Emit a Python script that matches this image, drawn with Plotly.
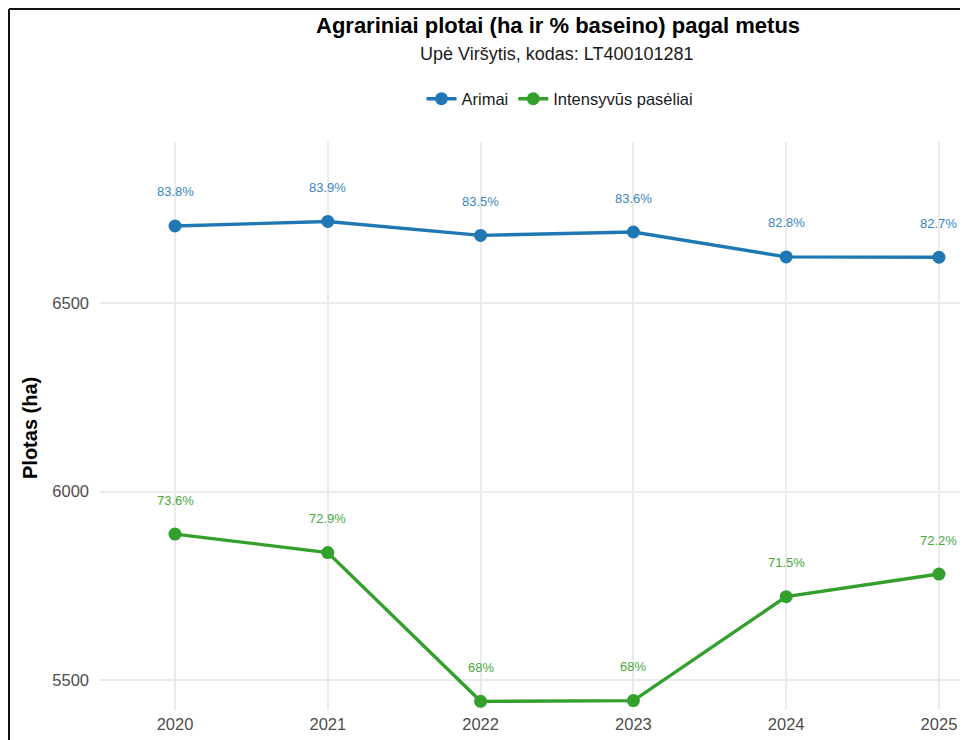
import plotly.graph_objects as go

years = [2020, 2021, 2022, 2023, 2024, 2025]
arimai_ha = [6705, 6717, 6680, 6689, 6623, 6622]
arimai_pct = [83.8, 83.9, 83.5, 83.6, 82.8, 82.7]
intens_ha = [5887, 5838, 5443, 5445, 5721, 5781]
intens_pct = [73.6, 72.9, 68.0, 68.0, 71.5, 72.2]
y_ticks = [5500, 6000, 6500]

BLUE = "#1f78b4"
GREEN = "#33a02c"
FONT = "Liberation Sans, Arial, sans-serif"

# page body has an 8px margin; positions below are screen pixels
OFF = 8
W, H = 968, 740
L, R, T, B = 92, 8, 134, 38
PW = W - L - R
PH = H - T - B


def sx(px):
    return (px - OFF - L) / PW


def sy(py):
    return (H - B - (py - OFF)) / PH


fig = go.Figure()
fig.add_trace(go.Scatter(
    x=years, y=arimai_ha, mode="lines+markers", name="Arimai",
    line=dict(color=BLUE, width=3.4), marker=dict(color=BLUE, size=13),
))
fig.add_trace(go.Scatter(
    x=years, y=intens_ha, mode="lines+markers", name="Intensyvūs pasėliai",
    line=dict(color=GREEN, width=3.4), marker=dict(color=GREEN, size=13),
))

annotations = []
for xs, ys, ps, col in [(years, arimai_ha, arimai_pct, "#3a86c0"),
                        (years, intens_ha, intens_pct, "#4aa83e")]:
    for x, y, p in zip(xs, ys, ps):
        annotations.append(dict(
            x=x, y=y, xref="x", yref="y", text=f"{p:g}%", showarrow=False,
            yshift=34, font=dict(family=FONT, size=13, color=col),
        ))

annotations.append(dict(
    xref="paper", yref="paper", x=sx(558), y=sy(25),
    text="<b>Agrariniai plotai (ha ir % baseino) pagal metus</b>", showarrow=False,
    xanchor="center", yanchor="middle", font=dict(family=FONT, size=22, color="#000000"),
))
annotations.append(dict(
    xref="paper", yref="paper", x=sx(557), y=sy(54),
    text="Upė Viršytis, kodas: LT400101281", showarrow=False,
    xanchor="center", yanchor="middle", font=dict(family=FONT, size=18, color="#1a1a1a"),
))
annotations.append(dict(
    xref="paper", yref="paper", x=sx(30), y=sy(428),
    text="<b>Plotas (ha)</b>", showarrow=False, textangle=-90,
    xanchor="center", yanchor="middle", font=dict(family=FONT, size=20, color="#000000"),
))

shapes = [
    dict(type="line", xref="paper", yref="paper",
         x0=sx(9), x1=sx(9), y0=sy(9), y1=sy(760),
         line=dict(color="#111111", width=2)),
    dict(type="line", xref="paper", yref="paper",
         x0=sx(9), x1=sx(990), y0=sy(9), y1=sy(9),
         line=dict(color="#111111", width=2)),
]

fig.update_layout(
    width=W, height=H,
    margin=dict(l=L, r=R, t=T, b=B),
    paper_bgcolor="white", plot_bgcolor="white",
    font=dict(family=FONT, size=16, color="#4d4d4d"),
    showlegend=True,
    legend=dict(
        orientation="h", xref="paper", yref="paper",
        x=sx(560), y=sy(99), xanchor="center", yanchor="middle",
        font=dict(family=FONT, size=16.5, color="#1a1a1a"),
        itemwidth=30, bgcolor="rgba(0,0,0,0)",
    ),
    annotations=annotations,
    shapes=shapes,
)
fig.update_xaxes(
    range=[2019.509, 2025.19], tickmode="array", tickvals=years,
    ticktext=[str(y) for y in years],
    showgrid=True, gridcolor="#ebebeb", gridwidth=1.5, zeroline=False,
    showline=False, ticks="", ticklabelstandoff=2,
    tickfont=dict(family=FONT, size=16.5, color="#4d4d4d"),
)
fig.update_yaxes(
    range=[5420, 6928], tickmode="array", tickvals=y_ticks,
    showgrid=True, gridcolor="#ebebeb", gridwidth=1.5, zeroline=False,
    showline=False, ticks="", ticklabelstandoff=10,
    tickfont=dict(family=FONT, size=16.5, color="#4d4d4d"),
)

fig.write_html("out.html")
